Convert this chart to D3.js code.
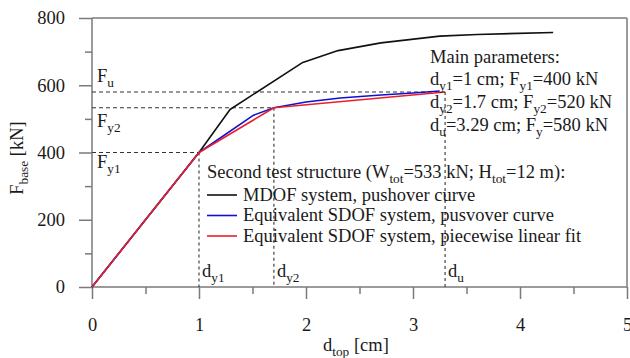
<!DOCTYPE html>
<html><head><meta charset="utf-8">
<script src="https://cdn.jsdelivr.net/npm/d3@7"></script>
<style>body{margin:0;background:#fff}svg{display:block}</style>
</head><body>
<svg id="c" width="630" height="358" font-family="'Liberation Serif', 'DejaVu Serif', serif"></svg>
<script>
// ---- data ----
const mdofX = [0, 1, 1.29, 1.97, 2.3, 2.7, 3.25, 3.6, 4.31];
const mdofY = [0, 400, 528, 668, 703, 726, 746, 751, 757];
const sdofX = [0, 1, 1.51, 1.7, 2.0, 2.32, 2.7, 3.0, 3.25];
const sdofY = [0, 400, 511, 533, 550, 562, 571, 577, 583];
const fitX = [0, 1, 1.7, 3.3];
const fitY = [0, 400, 533, 580];
const xTicks = [0, 1, 2, 3, 4, 5];
const xMinor = [0.5, 1.5, 2.5, 3.5, 4.5];
const yTicks = [0, 200, 400, 600, 800];
const yMinor = [100, 300, 500, 700];
const refD = [1, 1.7, 3.3];       // d_y1, d_y2, d_u
const refF = [400, 533, 580];     // F_y1, F_y2, F_u
const refDLabels = [["d","y1"], ["d","y2"], ["d","u"]];
const refFLabels = [["F","y1"], ["F","y2"], ["F","u"]];
const legendNames = ["MDOF system, pushover curve", "Equivalent SDOF system, pusvover curve", "Equivalent SDOF system, piecewise linear fit"];
const colors = ["#111111", "#1010d0", "#e8202a"];

// ---- layout ----
const FONT = "'Liberation Serif', 'DejaVu Serif', serif";
const svg = d3.select("#c");
const x = d3.scaleLinear([0, 5], [92, 627]);
const y = d3.scaleLinear([0, 800], [287, 18]);
const axisCol = "#7a7a7a";
const FS = 18.5;

function txt(px, py) {
  return svg.append("text").attr("x", px).attr("y", py).attr("font-size", FS)
    .attr("font-family", FONT).attr("fill", "#1a1a1a");
}
function rich(sel, parts) {
  let lastSub = false;
  parts.forEach(([t, sub]) => {
    const ts = sel.append("tspan").text(t);
    if (sub) ts.attr("font-size", FS * 0.72).attr("dy", 5);
    else if (lastSub) ts.attr("dy", -5);
    lastSub = !!sub;
  });
  return sel;
}

// frame top/right
svg.append("line").attr("x1", x(0)).attr("x2", x(5)).attr("y1", y(800)).attr("y2", y(800)).attr("stroke", axisCol).attr("stroke-width", 1.5);
svg.append("line").attr("x1", x(5)).attr("x2", x(5)).attr("y1", y(800)).attr("y2", y(0)).attr("stroke", axisCol).attr("stroke-width", 1.5);

// axes
const gx = svg.append("g").attr("transform", `translate(0,${y(0)})`)
  .call(d3.axisBottom(x).tickValues(xTicks).tickSize(12).tickPadding(19).tickFormat(d3.format("d")));
const gxm = svg.append("g").attr("transform", `translate(0,${y(0)})`)
  .call(d3.axisBottom(x).tickValues(xMinor).tickSize(7).tickFormat(""));
const gy = svg.append("g").attr("transform", `translate(${x(0)},0)`)
  .call(d3.axisLeft(y).tickValues(yTicks).tickSize(13).tickPadding(14).tickFormat(d3.format("d")));
const gym = svg.append("g").attr("transform", `translate(${x(0)},0)`)
  .call(d3.axisLeft(y).tickValues(yMinor).tickSize(7).tickFormat(""));
[gx, gxm, gy, gym].forEach(g => {
  g.attr("font-family", FONT).attr("font-size", FS);
  g.selectAll("path,line").attr("stroke", axisCol).attr("stroke-width", 1.5);
  g.select(".domain").remove();
  g.selectAll("text").attr("font-size", FS).attr("font-family", FONT).attr("fill", "#1a1a1a");
});
svg.append("line").attr("x1", x(0)).attr("x2", x(5)).attr("y1", y(0)).attr("y2", y(0)).attr("stroke", axisCol).attr("stroke-width", 1.5);
svg.append("line").attr("x1", x(0)).attr("x2", x(0)).attr("y1", y(0)).attr("y2", y(800)).attr("stroke", axisCol).attr("stroke-width", 1.5);

// reference dashed lines
const dash = svg.append("g").attr("stroke", "#333").attr("stroke-width", 1.1).attr("stroke-dasharray", "4,3");
refD.forEach((d, i) => {
  dash.append("line").attr("x1", x(0)).attr("x2", x(d)).attr("y1", y(refF[i])).attr("y2", y(refF[i]));
  dash.append("line").attr("x1", x(d)).attr("x2", x(d)).attr("y1", y(refF[i])).attr("y2", y(0)).attr("stroke-dasharray", "3,3");
});

// curves
const line = d3.line().x(d => x(d[0])).y(d => y(d[1]));
const series = [d3.zip(mdofX, mdofY), d3.zip(sdofX, sdofY), d3.zip(fitX, fitY)];
series.forEach((s, i) => {
  svg.append("path").datum(s).attr("d", line).attr("fill", "none")
    .attr("stroke", colors[i]).attr("stroke-width", 1.6).attr("stroke-linejoin", "round");
});

// reference labels
const fLabY = [168, 127, 82];
refFLabels.forEach((p, i) => rich(txt(97, fLabY[i]), [[p[0]], [p[1], true]]));
refDLabels.forEach((p, i) => rich(txt(x(refD[i]) + 3, 277), [[p[0]], [p[1], true]]));

// main parameters
const mp = [
  [["Main parameters:"]],
  [["d"], ["y1", true], ["=1 cm; F"], ["y1", true], ["=400 kN"]],
  [["d"], ["y2", true], ["=1.7 cm; F"], ["y2", true], ["=520 kN"]],
  [["d"], ["u", true], ["=3.29 cm; F"], ["y", true], ["=580 kN"]]
];
const mpY = [63, 85, 108, 131];
mp.forEach((parts, i) => rich(txt(430, mpY[i]), parts));

// legend
rich(txt(207, 178), [["Second test structure (W"], ["tot", true], ["=533 kN; H"], ["tot", true], ["=12 m):"]]);
legendNames.forEach((n, i) => {
  const ly = 195 + i * 20.5;
  svg.append("line").attr("x1", 207).attr("x2", 237).attr("y1", ly).attr("y2", ly).attr("stroke", colors[i]).attr("stroke-width", 1.6);
  txt(243, ly + 5.5).text(n);
});

// axis titles
rich(txt(323, 351), [["d"], ["top", true], [" [cm]"]]);
const yt = txt(0, 0).attr("transform", "translate(23,158) rotate(-90)").attr("text-anchor", "middle");
rich(yt, [["F"], ["base", true], [" [kN]"]]);
</script>
</body></html>
